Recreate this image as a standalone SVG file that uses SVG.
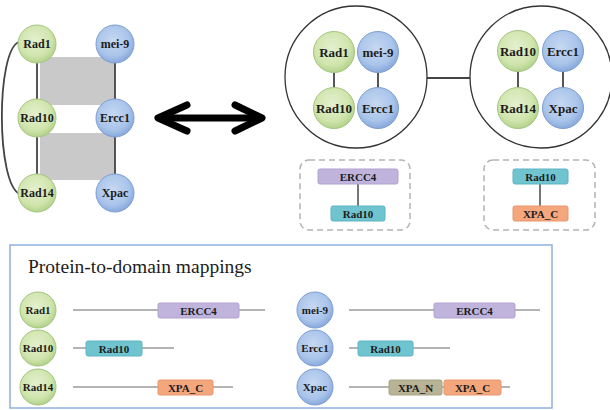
<svg xmlns="http://www.w3.org/2000/svg" width="610" height="410" viewBox="0 0 610 410">
<defs>
<radialGradient id="gg" cx="45%" cy="40%" r="60%">
<stop offset="0" stop-color="#e4f0cf"/><stop offset="0.7" stop-color="#d0e5ad"/><stop offset="1" stop-color="#b3d38c"/>
</radialGradient>
<radialGradient id="bg" cx="45%" cy="40%" r="60%">
<stop offset="0" stop-color="#c6d8f2"/><stop offset="0.7" stop-color="#a9c4ea"/><stop offset="1" stop-color="#88a9dc"/>
</radialGradient>
<style>
.g{fill:url(#gg);stroke:#a3c47f;stroke-width:1}
.b{fill:url(#bg);stroke:#7d9ed2;stroke-width:1}
text{font-family:'Liberation Serif','Times New Roman',Tinos,'DejaVu Serif',serif}
.t{font-weight:bold;fill:#1c1c1c;text-anchor:middle;dominant-baseline:central}
.s12{font-size:12px}.s13{font-size:13px}.s11{font-size:11px}
.e{stroke:#444;stroke-width:1.8;fill:none}
.pl{stroke:#b4b4b4;stroke-width:2}
.d1{fill:#c0b4dc;stroke:#b0a3d0}
.d2{fill:#6fc4d0;stroke:#5db5c2}
.d3{fill:#f4a67c;stroke:#e8966c}
.d4{fill:#b7b394;stroke:#a8a484}
.box{fill:none;stroke:#b3b3b3;stroke-width:1.5;stroke-dasharray:6 4}
</style>
</defs>
<rect width="610" height="410" fill="#fff"/>

<!-- left graph shading -->
<rect x="40" y="57" width="75" height="48" fill="#c9c9c9"/>
<rect x="40" y="133" width="75" height="47" fill="#c9c9c9"/>

<g id="connectors">
<line class="e" x1="37" y1="44" x2="37" y2="193"/>
<line class="e" x1="115" y1="44" x2="115" y2="193"/>
<path class="e" d="M19,42 C-4,50 -4,185 20,194" stroke-width="1.6"/>
<g stroke="#000" stroke-width="7" stroke-linecap="round" stroke-linejoin="round" fill="none">
<line x1="160" y1="118" x2="260" y2="118"/>
<polyline points="187,105 158,118 187,131"/>
<polyline points="235,105 262,118 235,131"/>
</g>
<line class="e" x1="427" y1="78" x2="470" y2="78" stroke-width="1.5"/>
<line class="e" x1="334" y1="52" x2="334" y2="108"/>
<line class="e" x1="378" y1="52" x2="378" y2="108"/>
<line class="e" x1="518" y1="51" x2="518" y2="108"/>
<line class="e" x1="563" y1="51" x2="563" y2="108"/>
<line stroke="#777" stroke-width="2" x1="358" y1="184" x2="358" y2="206"/>
<line stroke="#777" stroke-width="2" x1="540" y1="184" x2="540" y2="206"/>
</g>

<!-- left graph nodes -->
<g id="L-Rad1"><circle class="g" cx="37" cy="44" r="19"/><text class="t s12" x="37" y="44">Rad1</text></g>
<g id="L-mei9"><circle class="b" cx="115" cy="44" r="19"/><text class="t s12" x="115" y="44">mei-9</text></g>
<g id="L-Rad10"><circle class="g" cx="37" cy="118" r="19"/><text class="t s12" x="37" y="118">Rad10</text></g>
<g id="L-Ercc1"><circle class="b" cx="115" cy="118" r="19"/><text class="t s12" x="115" y="118">Ercc1</text></g>
<g id="L-Rad14"><circle class="g" cx="37" cy="193" r="19"/><text class="t s12" x="37" y="193">Rad14</text></g>
<g id="L-Xpac"><circle class="b" cx="115" cy="193" r="19"/><text class="t s12" x="115" y="193">Xpac</text></g>

<!-- complexes -->
<g id="complex1">
<circle cx="356" cy="77" r="71" fill="none" stroke="#333" stroke-width="1.3"/>
<g id="C1-Rad1"><circle class="g" cx="334" cy="52" r="20.5"/><text class="t s13" x="334" y="52">Rad1</text></g>
<g id="C1-mei9"><circle class="b" cx="378" cy="52" r="20.5"/><text class="t s13" x="378" y="52">mei-9</text></g>
<g id="C1-Rad10"><circle class="g" cx="334" cy="108" r="20.5"/><text class="t s13" x="334" y="108">Rad10</text></g>
<g id="C1-Ercc1"><circle class="b" cx="378" cy="108" r="20.5"/><text class="t s13" x="378" y="108">Ercc1</text></g>
</g>
<g id="complex2">
<circle cx="541" cy="77" r="71" fill="none" stroke="#333" stroke-width="1.3"/>
<g id="C2-Rad10"><circle class="g" cx="518" cy="51" r="20.5"/><text class="t s13" x="518" y="51">Rad10</text></g>
<g id="C2-Ercc1"><circle class="b" cx="563" cy="51" r="20.5"/><text class="t s13" x="563" y="51">Ercc1</text></g>
<g id="C2-Rad14"><circle class="g" cx="518" cy="108" r="20.5"/><text class="t s13" x="518" y="108">Rad14</text></g>
<g id="C2-Xpac"><circle class="b" cx="563" cy="108" r="20.5"/><text class="t s13" x="563" y="108">Xpac</text></g>
</g>

<!-- domain interaction boxes -->
<g id="dbox1">
<rect class="box" x="300" y="160" width="110" height="70" rx="9"/>
<rect class="d1" x="318" y="169" width="80" height="15" rx="2"/><text class="t s11" x="358" y="176.5">ERCC4</text>
<rect class="d2" x="331" y="206" width="54" height="15" rx="2"/><text class="t s11" x="358" y="213.5">Rad10</text>
</g>
<g id="dbox2">
<rect class="box" x="484" y="160" width="111" height="70" rx="9"/>
<rect class="d2" x="513" y="169" width="55" height="15" rx="2"/><text class="t s11" x="540.5" y="176.5">Rad10</text>
<rect class="d3" x="513" y="206" width="55" height="15" rx="2"/><text class="t s11" x="540.5" y="213.5">XPA_C</text>
</g>

<!-- mappings -->
<g id="mappings">
<rect x="10" y="245" width="542" height="163" fill="none" stroke="#8fb0df" stroke-width="1.5"/>
<text x="28" y="273" font-size="19.5" fill="#1c1c1c">Protein-to-domain mappings</text>
<line class="pl" x1="73" y1="310" x2="265" y2="310"/>
<line class="pl" x1="73" y1="348" x2="174" y2="348"/>
<line class="pl" x1="73" y1="387" x2="233" y2="387"/>
<line class="pl" x1="349" y1="310" x2="540" y2="310"/>
<line class="pl" x1="349" y1="348" x2="450" y2="348"/>
<line class="pl" x1="349" y1="387" x2="510" y2="387"/>
<rect class="d1" x="158" y="303" width="81" height="15" rx="2"/><text class="t s11" x="198.5" y="310.5">ERCC4</text>
<rect class="d2" x="86" y="341" width="56" height="15" rx="2"/><text class="t s11" x="114" y="348.5">Rad10</text>
<rect class="d3" x="158" y="380" width="55" height="15" rx="2"/><text class="t s11" x="185.5" y="387.5">XPA_C</text>
<rect class="d1" x="434" y="303" width="81" height="15" rx="2"/><text class="t s11" x="474.5" y="310.5">ERCC4</text>
<rect class="d2" x="358" y="341" width="55" height="15" rx="2"/><text class="t s11" x="385.5" y="348.5">Rad10</text>
<rect class="d4" x="389" y="380" width="53" height="15" rx="2"/><text class="t s11" x="415.5" y="387.5">XPA_N</text>
<rect class="d3" x="444" y="380" width="57" height="15" rx="2"/><text class="t s11" x="472.5" y="387.5">XPA_C</text>
</g>
<g id="M-Rad1"><circle class="g" cx="38" cy="310" r="18"/><text class="t s11" x="38" y="310">Rad1</text></g>
<g id="M-Rad10"><circle class="g" cx="38" cy="348" r="18"/><text class="t s11" x="38" y="348">Rad10</text></g>
<g id="M-Rad14"><circle class="g" cx="38" cy="387" r="18"/><text class="t s11" x="38" y="387">Rad14</text></g>
<g id="M-mei9"><circle class="b" cx="315" cy="310" r="18"/><text class="t s11" x="315" y="310">mei-9</text></g>
<g id="M-Ercc1"><circle class="b" cx="315" cy="348" r="18"/><text class="t s11" x="315" y="348">Ercc1</text></g>
<g id="M-Xpac"><circle class="b" cx="315" cy="387" r="18"/><text class="t s11" x="315" y="387">Xpac</text></g>
</svg>
